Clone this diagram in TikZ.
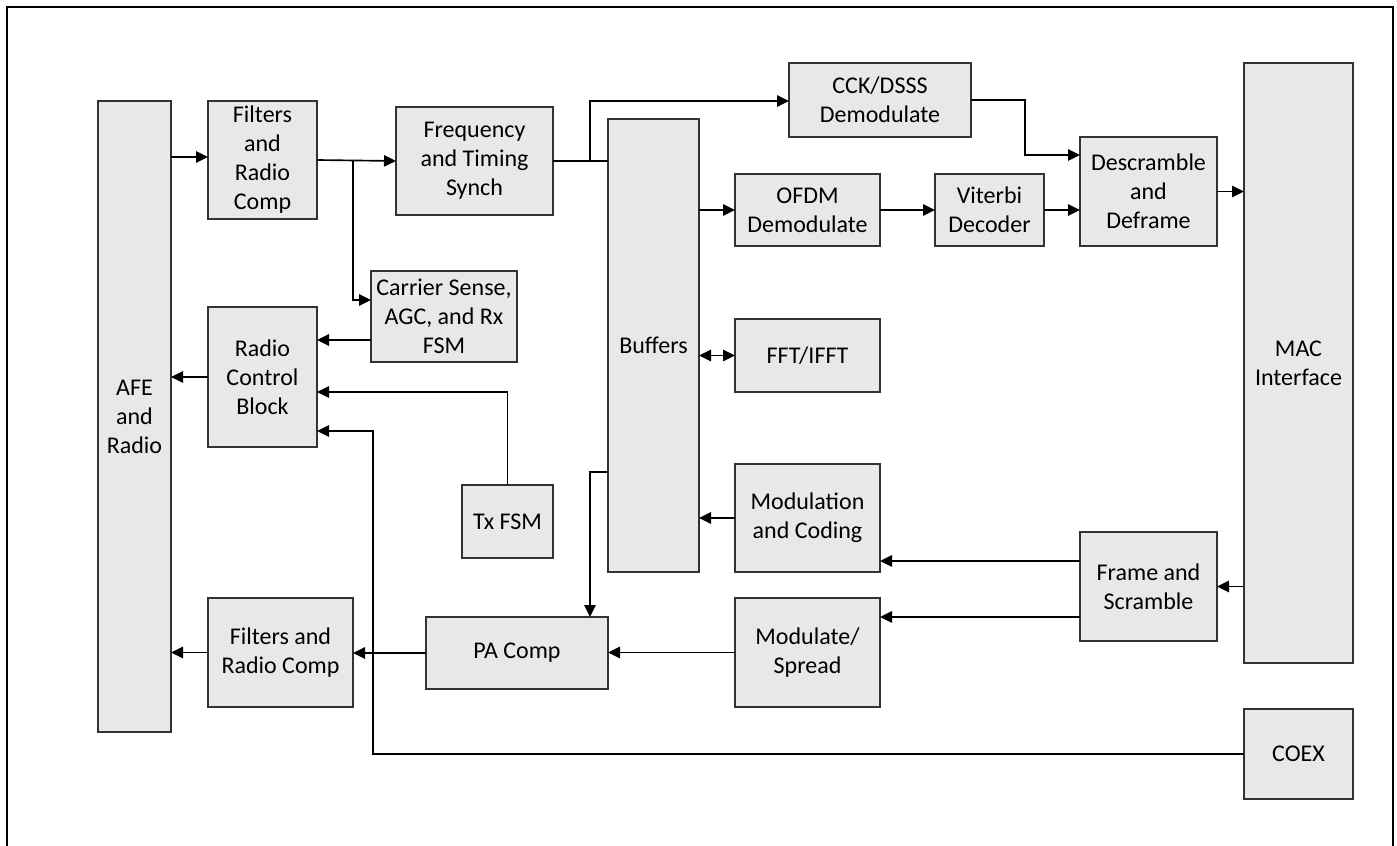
\documentclass[tikz,border=0pt]{standalone}
\usepackage{fontspec}
\setmainfont{Carlito}
\usetikzlibrary{arrows.meta}
\definecolor{boxfill}{HTML}{E8E8E8}
\definecolor{boxline}{HTML}{333333}
\tikzset{
  blk/.style 2 args={draw=boxline, fill=boxfill, line width=1.1pt, inner sep=0pt, outer sep=0pt,
    minimum width={#1*0.75pt}, minimum height={#2*0.75pt}, align=center,
    font=\fontsize{18}{21.8}\selectfont},
  arr/.style={line width=1.25pt, -{Triangle[length=9pt,width=8.5pt]}},
  arrboth/.style={line width=1.25pt, {Triangle[length=9pt,width=8.5pt]}-{Triangle[length=9pt,width=8.5pt]}},
  ln/.style={line width=1.25pt}
}
\begin{document}
\begin{tikzpicture}[x=0.75pt,y=-0.75pt]
\useasboundingbox (0,0) rectangle (1397,846);
\fill[white] (0,0) rectangle (1397,846);
\draw[line width=1.6pt] (7,846) -- (7,7) -- (1393,7) -- (1393,846);

\node[blk={73}{631}] (afe) at (134.5,416.5) {AFE\\and\\Radio};
\node[blk={109}{118}] (filt1) at (262.5,160) {Filters\\and\\Radio\\Comp};
\node[blk={157}{108}] (freq) at (474.5,161) {Frequency\\and Timing\\Synch};
\node[blk={182}{74}] (cck) at (880,100) {CCK/DSSS\\Demodulate};
\node[blk={91}{453}] (buf) at (653.5,345.5) {Buffers};
\node[blk={145}{72}] (ofdm) at (807.5,210) {OFDM\\Demodulate};
\node[blk={109}{72}] (vit) at (989.5,210) {Viterbi\\Decoder};
\node[blk={137}{109}] (desc) at (1148.5,191.5) {Descramble\\and\\Deframe};
\node[blk={109}{600}] (mac) at (1298.5,363) {MAC\\Interface};
\node[blk={146}{91}] (cs) at (444,316.5) {Carrier Sense,\\AGC, and Rx\\FSM};
\node[blk={145}{73}] (fft) at (807.5,355.5) {FFT/IFFT};
\node[blk={109}{140}] (rcb) at (262.5,377) {Radio\\Control\\Block};
\node[blk={91}{73}] (tx) at (507.5,521.5) {Tx FSM};
\node[blk={145}{108}] (modc) at (807.5,518) {Modulation\\and Coding};
\node[blk={137}{109}] (fs) at (1148.5,586.5) {Frame and\\Scramble};
\node[blk={109}{90}] (coex) at (1298.5,754) {COEX};
\node[blk={182}{72}] (pa) at (517,653) {PA Comp};
\node[blk={145}{109}] (filt2) at (280.5,652.5) {Filters and\\Radio Comp};
\node[blk={145}{109}] (mods) at (807.5,652.5) {Modulate/\\Spread};

\coordinate (j1) at (353,160.5);
\coordinate (j2) at (590,161);
\coordinate (j3) at (1025,100);
\coordinate (j4) at (590,472);
\coordinate (j5) at (373,754);

\draw[arr] (afe.east |- 0,157) -- (filt1.west |- 0,157);
\draw[arr] (filt1.east) -- (freq.west);
\draw[arr] (j1) |- (cs.west |- 0,300);
\draw[ln] (freq.east) -- (buf.west |- freq.east);
\draw[arr] (j2) |- (cck.west |- 0,101);
\draw[arr] (cck.east) -- (j3) |- (desc.west |- 0,155);
\draw[arr] (buf.east |- ofdm.west) -- (ofdm.west);
\draw[arr] (ofdm.east) -- (vit.west);
\draw[arr] (vit.east) -- (desc.west |- vit.east);
\draw[arr] (desc.east) -- (mac.west |- desc.east);
\draw[arr] (cs.west |- 0,340) -- (rcb.east |- 0,340);
\draw[arr] (rcb.west) -- (afe.east |- rcb.west);
\draw[arr] (tx.north) |- (rcb.east |- 0,392);
\draw[arr] (coex.west) -- (j5) |- (rcb.east |- 0,431);
\draw[arrboth] (buf.east |- fft.west) -- (fft.west);
\draw[arr] (modc.west) -- (buf.east |- modc.west);
\draw[arr] (buf.west |- j4) -- (j4) -- (pa.north -| j4);
\draw[arr] (fs.west |- 0,561) -- (modc.east |- 0,561);
\draw[arr] (fs.west |- 0,617) -- (mods.east |- 0,617);
\draw[arr] (mac.west |- fs.east) -- (fs.east);
\draw[arr] (mods.west) -- (pa.east |- mods.west);
\draw[arr] (pa.west) -- (filt2.east |- pa.west);
\draw[arr] (filt2.west) -- (afe.east |- filt2.west);
\end{tikzpicture}
\end{document}
